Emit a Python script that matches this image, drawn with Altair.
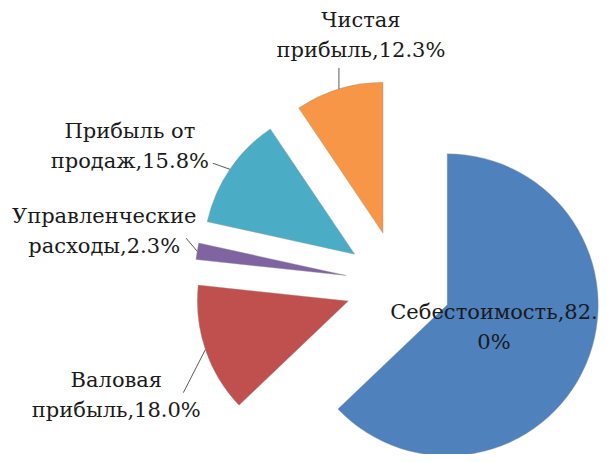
import altair as alt
import pandas as pd

# ---- data ----
categories = ["Себестоимость", "Валовая прибыль", "Управленческие расходы",
              "Прибыль от продаж", "Чистая прибыль"]
values = [82.0, 18.0, 2.3, 15.8, 12.3]
label_texts = ["Себестоимость,82.\n0%", "Валовая\nприбыль,18.0%",
               "Управленческие\nрасходы,2.3%", "Прибыль от\nпродаж,15.8%",
               "Чистая\nприбыль,12.3%"]

# ---- styling / layout (not data) ----
colors = ["#4F81BD", "#C0504D", "#8064A2", "#4BACC6", "#F79646"]
CX, CY = 390.5, 276.0      # pie centre in chart pixels
EXPLODE = 53               # explosion distance
R = 151                    # pie radius
LINE_H = 30
label_dx = [-92, -89, -93, -100, 22]
label_dy = [-36, 46, -19, -22, -53]
leader_dx = [0, -22, -11, -17, 0]
leader_dy = [0, 43, -13, -6, -21]
has_leader = [False, True, True, True, True]

df = pd.DataFrame({
    "idx": list(range(len(categories))),
    "cat": categories,
    "value": values,
    "label": label_texts,
    "ldx": label_dx, "ldy": label_dy,
    "kdx": leader_dx, "kdy": leader_dy,
    "lead": has_leader,
})

base = (
    alt.Chart(df)
    .transform_joinaggregate(total="sum(value)")
    .transform_window(cum="sum(value)", sort=[alt.SortField("idx")], frame=[None, 0])
    .transform_calculate(t0="2*PI*(datum.cum-datum.value)/datum.total",
                         t1="2*PI*datum.cum/datum.total")
    .transform_calculate(mid="(datum.t0+datum.t1)/2")
    .transform_calculate(cx=f"{CX}+{EXPLODE}*sin(datum.mid)",
                         cy=f"{CY}-{EXPLODE}*cos(datum.mid)")
    .transform_calculate(ax=f"datum.cx+{R}*sin(datum.mid)",
                         ay=f"datum.cy-{R}*cos(datum.mid)")
    .transform_calculate(lx="datum.ax+datum.kdx", ly="datum.ay+datum.kdy",
                         tx="datum.ax+datum.ldx",
                         ty=f"datum.ay+datum.ldy-{LINE_H / 2}")
)

arcs = base.mark_arc(radius=R, stroke="#9a9a9a", strokeWidth=0.4).encode(
    x=alt.X("cx:Q", scale=None, axis=None),
    y=alt.Y("cy:Q", scale=None, axis=None),
    theta=alt.Theta("t0:Q", scale=None),
    theta2="t1:Q",
    color=alt.Color("cat:N", scale=alt.Scale(domain=categories, range=colors), legend=None),
)

leaders = base.transform_filter("datum.lead").mark_rule(color="#595959", strokeWidth=1).encode(
    x=alt.X("ax:Q", scale=None, axis=None),
    y=alt.Y("ay:Q", scale=None, axis=None),
    x2="lx:Q",
    y2="ly:Q",
)

labels = base.mark_text(font="DejaVu Serif",
                        fontSize=21, lineBreak="\n",
                        lineHeight=LINE_H, align="center", baseline="middle",
                        color="#1a1a1a").encode(
    x=alt.X("tx:Q", scale=None, axis=None),
    y=alt.Y("ty:Q", scale=None, axis=None),
    text="label:N",
)

chart = (
    alt.layer(arcs, leaders, labels)
    .properties(width=591, height=446, padding=0, autosize="none")
    .configure_view(stroke=None)
)

chart.save("out.html", embed_options={"renderer": "svg", "actions": False})
